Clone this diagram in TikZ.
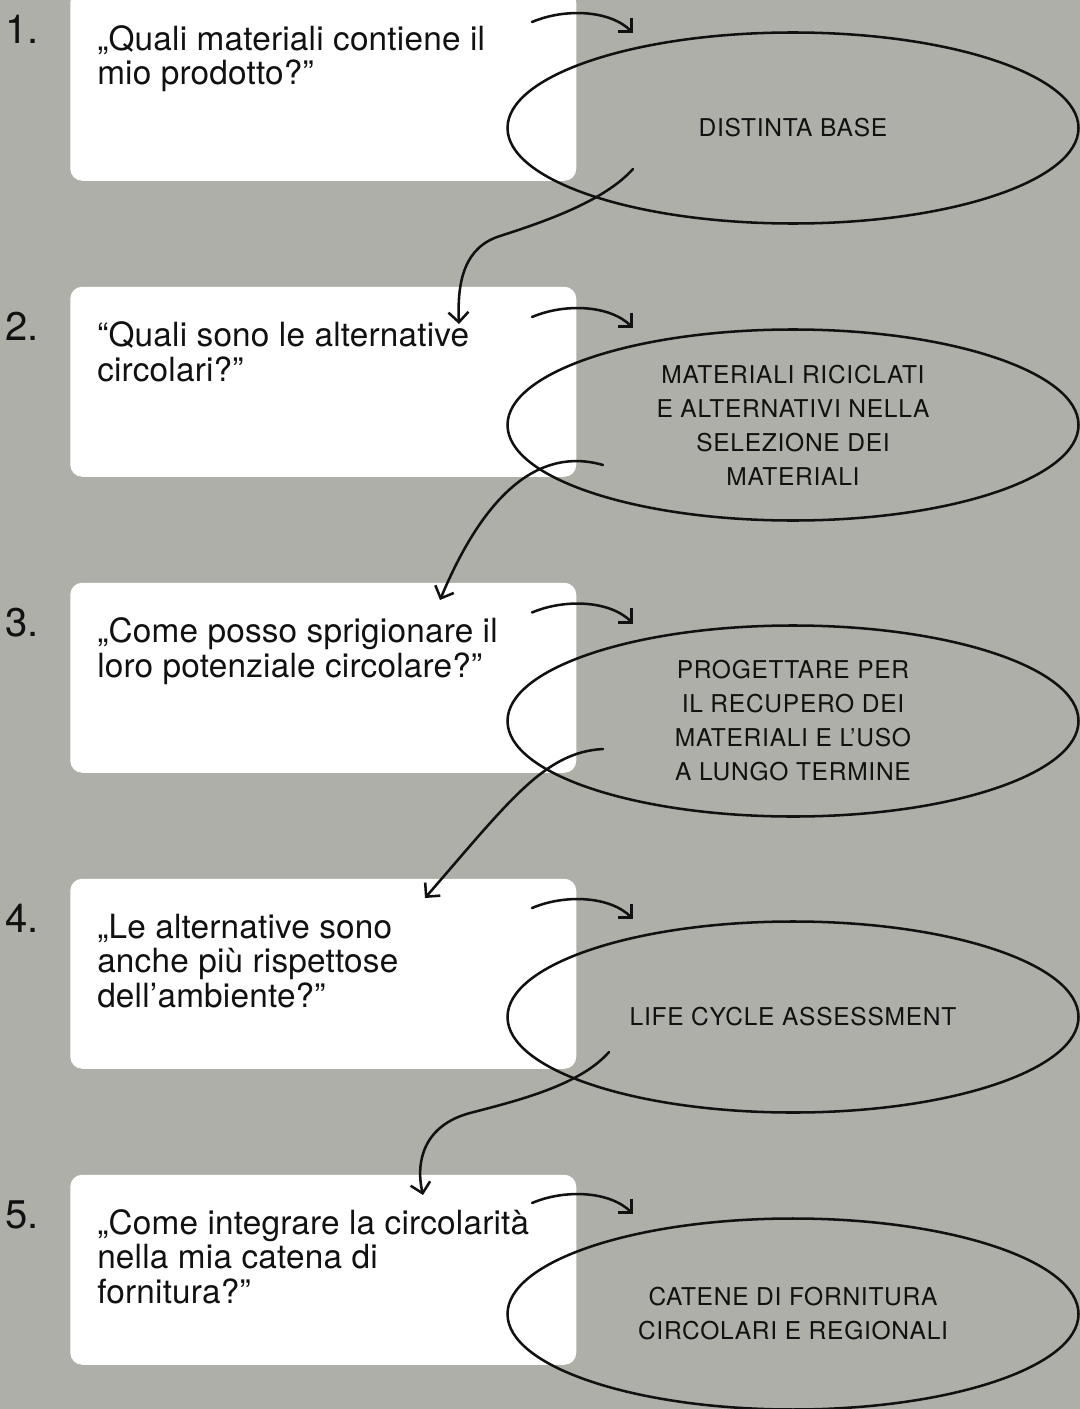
\documentclass[tikz,border=0pt]{standalone}
\usepackage{fontspec}
\setmainfont{TeX Gyre Heros}
\newfontfamily\askfont[LetterSpace=0.6]{TeX Gyre Heros}
\newfontfamily\capsfont[LetterSpace=3]{TeX Gyre Heros}
\usetikzlibrary{shapes.geometric,arrows.meta}
\definecolor{bggray}{HTML}{AEAFA8}
\definecolor{ink}{HTML}{111111}
\begin{document}
\begin{tikzpicture}[x=0.75pt,y=-0.75pt,
  card/.style={fill=white, rounded corners=9pt, minimum width=506*0.75pt,
    minimum height=190*0.75pt, inner sep=0pt, anchor=north west},
  numlabel/.style={anchor=base west, inner sep=0pt, text=ink,
    font=\fontsize{30}{32}\selectfont},
  % multi-line text: the base anchor sits on the last line
  question/.style={anchor=base west, inner sep=0pt, align=left, text=ink,
    font=\askfont\fontsize{25}{25.9}\selectfont},
  topic/.style={ellipse, draw=ink, line width=1.9pt, minimum width=571*0.75pt,
    minimum height=191*0.75pt, inner sep=0pt, align=center, text=ink,
    font=\capsfont\fontsize{18.4}{25.5}\selectfont},
  flow/.style={draw=ink, line width=1.9pt, line cap=round,
    -{Straight Barb[length=7.5pt,width=15pt]}},
]
% canvas
\clip (0,0) rectangle (1080,1409);
\fill[bggray] (0,0) rectangle (1080,1409);

% question cards
\node[card] (c1) at (70,-9.5) {};
\node[card] (c2) at (70,286.5) {};
\node[card] (c3) at (70,582.5) {};
\node[card] (c4) at (70,878.5) {};
\node[card] (c5) at (70,1174.5) {};

% step numbers
\node[numlabel] (n1) at (5,44) {1.};
\node[numlabel] (n2) at (5,340) {2.};
\node[numlabel] (n3) at (5,636) {3.};
\node[numlabel] (n4) at (5,932) {4.};
\node[numlabel] (n5) at (5,1228) {5.};

% questions (placed by the baseline of their last line)
\node[question] (q1) at (97,85) {„Quali materiali contiene il\\mio prodotto?”};
\node[question] (q2) at (97,381) {“Quali sono le alternative\\circolari?”};
\node[question] (q3) at (97,677) {„Come posso sprigionare il\\loro potenziale circolare?”};
\node[question] (q4) at (97,1007.5) {„Le alternative sono\\anche più rispettose\\dell’ambiente?”};
\node[question] (q5) at (97,1303.5) {„Come integrare la circolarità\\nella mia catena di\\fornitura?”};

% answer ellipses
\node[topic] (e1) at (793,128) {DISTINTA BASE};
\node[topic] (e2) at (793,425) {MATERIALI RICICLATI\\E ALTERNATIVI NELLA\\SELEZIONE DEI\\MATERIALI};
\node[topic] (e3) at (793,721) {PROGETTARE PER\\IL RECUPERO DEI\\MATERIALI E L’USO\\A LUNGO TERMINE};
\node[topic] (e4) at (793,1017) {LIFE CYCLE ASSESSMENT};
\node[topic] (e5) at (793,1314) {CATENE DI FORNITURA\\CIRCOLARI E REGIONALI};

% short arrows from each card towards its ellipse
\coordinate (a1s) at (532,22);    \coordinate (a1e) at (633,33);
\coordinate (a2s) at (532,317);   \coordinate (a2e) at (633,328);
\coordinate (a3s) at (532,612.5); \coordinate (a3e) at (633,623.5);
\coordinate (a4s) at (532,908);   \coordinate (a4e) at (633,919);
\coordinate (a5s) at (532,1203);  \coordinate (a5e) at (633,1214);
\foreach \k in {1,...,5}{
  \draw[flow] (a\k s) .. controls +(33,-14) and +(-23,-23) .. (a\k e);
}

% connectors from each ellipse down to the next card
\coordinate (s1) at (633,169);  \coordinate (t2) at (459,324);
\coordinate (s2) at (603,465);  \coordinate (t3) at (440,600);
\coordinate (s3) at (603,749);  \coordinate (t4) at (425,898);
\coordinate (s4) at (609,1052); \coordinate (t5) at (423,1195);

\draw[flow] (s1) .. controls (605,200) and (550,220) .. (500,236)
                 .. controls (465,247) and (457,280) .. (t2);
\draw[flow] (s2) .. controls (537,446) and (483,497) .. (t3);
\draw[flow] (s3) .. controls (545,752) and (510,800) .. (t4);
\draw[flow] (s4) .. controls (580,1085) and (520,1100) .. (470,1113)
                 .. controls (425,1125) and (415,1160) .. (t5);
\end{tikzpicture}
\end{document}
